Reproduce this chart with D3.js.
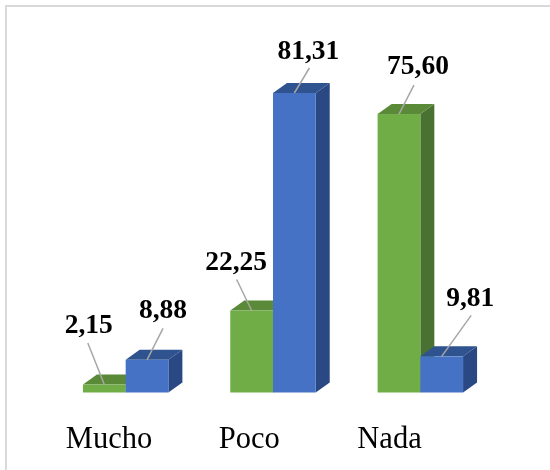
<!DOCTYPE html>
<html><head><meta charset="utf-8">
<script src="https://cdnjs.cloudflare.com/ajax/libs/d3/7.8.5/d3.min.js"></script>
<style>html,body{margin:0;padding:0;background:#fff}svg{display:block}</style>
</head><body><div id="c"></div>
<script>
const categories = ["Mucho", "Poco", "Nada"];
const seriesNames = ["Verde", "Azul"];
const verde = [2.15, 22.25, 75.60];
const azul = [8.88, 81.31, 9.81];
const valueLabels = [["2,15","22,25","75,60"],["8,88","81,31","9,81"]];

const W = 550, H = 470, base = 392.5, dx = 14, dy = 10;
const palette = {
  Verde: {front:"#70ad47", top:"#5a8a39", side:"#4a7230"},
  Azul:  {front:"#4472c4", top:"#2f528f", side:"#2a4a84"}
};
// label centre and baseline, relative to the bar's front-top centre
const labelOffset = [[[-15.5,-51.6],[-15.5,-41],[19,-39.6]],[[16,-41.5],[14,-33.7],[28.5,-50]]];
const leaderEnd = [[[-16.5,-41.6],[-15,-31],[15,-29]],[[16,-31.5],[15,-25],[29.5,-41]]];

const svg = d3.select("#c").append("svg").attr("width", W).attr("height", H);
const defs = svg.append("defs");
defs.append("filter").attr("id","soft").attr("x","-5%").attr("y","-5%").attr("width","110%").attr("height","110%")
  .append("feGaussianBlur").attr("stdDeviation",0.5);
const root = svg.append("g").attr("filter","url(#soft)");
root.append("rect").attr("width",W).attr("height",H).attr("fill","#fff");
root.append("path").attr("d",`M6,${H+5}V6H${W+5}`).attr("fill","none").attr("stroke","#d9d9d9").attr("stroke-width",2);

const x0 = d3.scaleBand().domain(categories).range([52,494]).paddingInner(0.42).paddingOuter(0.21);
const x1 = d3.scaleBand().domain(seriesNames).range([0,x0.bandwidth()]);
const y = d3.scaleLinear().domain([0,81.31]).range([base,93]);
const xLabel = d3.scalePoint().domain(categories).range([108.5,389]);

const series = [verde, azul];
const bars = [];
series.forEach((vals,s)=>vals.forEach((v,c)=>bars.push({s,c,v,name:seriesNames[s],cat:categories[c]})));

const groups = root.append("g").selectAll("g.bar").data(bars).join("g").attr("class","bar");
groups.each(function(d){
  const sel = d3.select(this), w = x1.bandwidth();
  const l = x0(d.cat)+x1(d.name), r = l+w, t = y(d.v), col = palette[d.name];
  const path = p=>p.map(a=>a.join(",")).join(" ");
  sel.append("polygon").attr("points",path([[r,t],[r+dx,t-dy],[r+dx,base-dy],[r,base]])).attr("fill",col.side);
  sel.append("polygon").attr("points",path([[l,t],[l+dx,t-dy],[r+dx,t-dy],[r,t]])).attr("fill",col.top);
  sel.append("rect").attr("x",l).attr("y",t).attr("width",w).attr("height",base-t).attr("fill",col.front);
});

const cx = d=>x0(d.cat)+x1(d.name)+x1.bandwidth()/2;
root.append("g").selectAll("line").data(bars).join("line")
  .attr("x1",d=>cx(d)).attr("y1",d=>y(d.v))
  .attr("x2",d=>cx(d)+leaderEnd[d.s][d.c][0]).attr("y2",d=>y(d.v)+leaderEnd[d.s][d.c][1])
  .attr("stroke","#a6a6a6").attr("stroke-width",1.5);

root.append("g").selectAll("text").data(bars).join("text")
  .attr("x",d=>cx(d)+labelOffset[d.s][d.c][0]).attr("y",d=>y(d.v)+labelOffset[d.s][d.c][1])
  .attr("text-anchor","middle")
  .style("font","bold 27.5px 'Liberation Serif'").attr("fill","#000")
  .text(d=>valueLabels[d.s][d.c]);

const axis = d3.axisBottom(xLabel).tickSize(0);
const ax = root.append("g").attr("transform",`translate(0,${base})`).call(axis);
ax.select(".domain").remove();
ax.selectAll("text").style("font","30.5px 'Liberation Serif'").attr("fill","#000").attr("dy",0).attr("y",55.5);
</script></body></html>
